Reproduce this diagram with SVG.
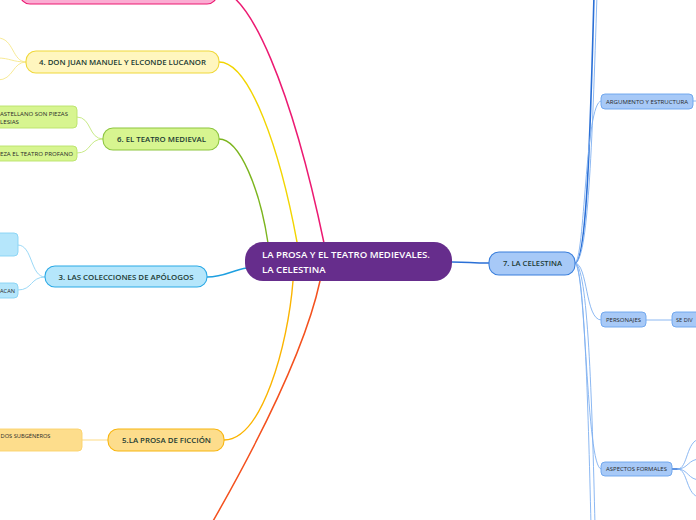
<svg xmlns="http://www.w3.org/2000/svg" width="696" height="520" viewBox="0 0 696 520">
<style>
.t{font-family:"Open Sans","Liberation Sans",sans-serif;font-weight:600;font-size:7.6px;fill:#1c3b33;text-anchor:middle}
.s{font-family:"Open Sans","Liberation Sans",sans-serif;font-size:5.6px;fill:#2a2a2a}
.c{fill:none;stroke-linecap:round}
</style>
<rect width="696" height="520" fill="#ffffff"/>
<g id="connectors">
  <path class="c" d="M217,-10 C250,-10 292,90 324,243" stroke="#ec1a72" stroke-width="1.5"/>
  <path class="c" d="M219,62 C250,62 280,150 297,242" stroke="#f2d500" stroke-width="1.4"/>
  <path class="c" d="M219,139 C240,139 260,190 268,243" stroke="#7cb51e" stroke-width="1.4"/>
  <path class="c" d="M207,277 C225,277 232,270 247,268" stroke="#1e9fe0" stroke-width="1.5"/>
  <path class="c" d="M224,440 C262,440 288,345 293,281" stroke="#fbb400" stroke-width="1.4"/>
  <path class="c" d="M320,281 C305,350 260,440 205,535" stroke="#f4511e" stroke-width="1.5"/>
  <path class="c" d="M452,262 C470,262 470,263 489,263" stroke="#2a6fd6" stroke-width="1.5"/>
  <path class="c" d="M575,263 C586,263 590,150 594,-5" stroke="#2a6fd6" stroke-width="1.6"/>
  <path class="c" d="M575,263 C588,263 592,150 597,-5" stroke="#7fb0f0" stroke-width="0.9"/>
  <path class="c" d="M575,263 C585,263 585,101 601,101" stroke="#7fb0f0" stroke-width="0.9"/>
  <path class="c" d="M575,263 C588,263 585,320 601,320" stroke="#7fb0f0" stroke-width="0.9"/>
  <path class="c" d="M575,263 C586,263 586,469 601,469" stroke="#7fb0f0" stroke-width="0.9"/>
  <path class="c" d="M575,263 C584,263 588,400 591,525" stroke="#7fb0f0" stroke-width="0.9"/>
  <path class="c" d="M575,263 C588,263 592,400 595,525" stroke="#7fb0f0" stroke-width="0.9"/>
  <path class="c" d="M693,101 L700,101" stroke="#7fb0f0" stroke-width="0.9"/>
  <path class="c" d="M646,320 L672,320" stroke="#7fb0f0" stroke-width="0.9"/>
  <path class="c" d="M672,469 L679,469" stroke="#2a6fd6" stroke-width="1.4"/>
  <path class="c" d="M678,469 C688,469 686,440 700,439" stroke="#7fb0f0" stroke-width="0.9"/>
  <path class="c" d="M678,469 C688,469 688,459 700,459" stroke="#7fb0f0" stroke-width="0.9"/>
  <path class="c" d="M678,469 C688,469 688,480 700,480" stroke="#7fb0f0" stroke-width="0.9"/>
  <path class="c" d="M678,469 C688,469 686,497 700,497" stroke="#7fb0f0" stroke-width="0.9"/>
  <path class="c" d="M26,62 C12,62 14,38 -2,38" stroke="#f6e88a" stroke-width="0.9"/>
  <path class="c" d="M26,62 C12,62 10,58 -2,58" stroke="#f6e88a" stroke-width="0.9"/>
  <path class="c" d="M26,62 C12,62 14,80 -2,80" stroke="#f6e88a" stroke-width="0.9"/>
  <path class="c" d="M103,139 C88,139 92,117 77,117" stroke="#c2e87a" stroke-width="0.9"/>
  <path class="c" d="M103,139 C88,139 92,153 77,153" stroke="#c2e87a" stroke-width="0.9"/>
  <path class="c" d="M45,277 C30,277 33,245 18,245" stroke="#8fd4f5" stroke-width="0.9"/>
  <path class="c" d="M45,277 C30,277 33,290 18,290" stroke="#8fd4f5" stroke-width="0.9"/>
  <path class="c" d="M108,440 L82,440" stroke="#fdd776" stroke-width="0.9"/>
</g>
<g id="central">
  <rect x="245" y="242" width="207" height="39" rx="18" fill="#662d8c"/>
  <text x="262" y="258" font-family="Open Sans, Liberation Sans, sans-serif" font-size="9.6" font-weight="600" fill="#ffffff">LA PROSA Y EL TEATRO MEDIEVALES.</text>
  <text x="262" y="273" font-family="Open Sans, Liberation Sans, sans-serif" font-size="9.6" font-weight="600" fill="#ffffff">LA CELESTINA</text>
</g>
<g id="n1">
  <rect x="20" y="-20" width="197" height="24" rx="10" fill="#fbadd3" stroke="#ec1a72" stroke-width="1.2"/>
</g>
<g id="n4">
  <rect x="26" y="51" width="193" height="22" rx="10" fill="#fff6bf" stroke="#f0d83a" stroke-width="1.1"/>
  <text class="t" x="122.5" y="64.8" textLength="167" lengthAdjust="spacingAndGlyphs">4. DON JUAN MANUEL Y ELCONDE LUCANOR</text>
</g>
<g id="n6">
  <rect x="103" y="128" width="116" height="22" rx="10" fill="#d7f590" stroke="#8dc63f" stroke-width="1.1"/>
  <text class="t" x="161.5" y="141.8" textLength="89" lengthAdjust="spacingAndGlyphs">6. EL TEATRO MEDIEVAL</text>
</g>
<g id="n6a">
  <rect x="-10" y="106" width="87" height="22" rx="4" fill="#d7f590" stroke="#b9e36a" stroke-width="0.9"/>
  <text class="s" x="0" y="115.5" textLength="68" lengthAdjust="spacingAndGlyphs">ASTELLANO SON PIEZAS</text>
  <text class="s" x="0" y="124" textLength="19" lengthAdjust="spacingAndGlyphs">LESIAS</text>
</g>
<g id="n6b">
  <rect x="-10" y="146" width="87" height="15" rx="4" fill="#d7f590" stroke="#b9e36a" stroke-width="0.9"/>
  <text class="s" x="0" y="155.6" textLength="73" lengthAdjust="spacingAndGlyphs">EZA EL TEATRO PROFANO</text>
</g>
<g id="n3">
  <rect x="45" y="266" width="162" height="21" rx="10" fill="#b5e6fb" stroke="#2aa9e6" stroke-width="1.1"/>
  <text class="t" x="126" y="279.5" textLength="135" lengthAdjust="spacingAndGlyphs">3. LAS COLECCIONES DE APÓLOGOS</text>
</g>
<g id="n3a">
  <rect x="-10" y="233" width="28" height="23" rx="4" fill="#b5e6fb" stroke="#86d2f4" stroke-width="0.9"/>
</g>
<g id="n3b">
  <rect x="-10" y="283" width="28" height="15" rx="4" fill="#b5e6fb" stroke="#86d2f4" stroke-width="0.9"/>
  <text class="s" x="0" y="292.6" textLength="15" lengthAdjust="spacingAndGlyphs">ACAN</text>
</g>
<g id="n5">
  <rect x="108" y="429" width="116" height="22" rx="10" fill="#fddd8c" stroke="#f8b50f" stroke-width="1.1"/>
  <text class="t" x="166.5" y="442.8" textLength="89" lengthAdjust="spacingAndGlyphs">5.LA PROSA DE FICCIÓN</text>
</g>
<g id="n5a">
  <rect x="-10" y="429" width="92" height="22" rx="4" fill="#fddd8c" stroke="#fcd36a" stroke-width="0.9"/>
  <text class="s" x="0.5" y="438" textLength="50" lengthAdjust="spacingAndGlyphs">DOS SUBGÉNEROS</text>
</g>
<g id="n7">
  <rect x="489" y="252" width="86" height="23" rx="10" fill="#a7c9f7" stroke="#3a7fdc" stroke-width="1.1"/>
  <text class="t" x="532.5" y="266" textLength="59" lengthAdjust="spacingAndGlyphs">7. LA CELESTINA</text>
</g>
<g id="n7a">
  <rect x="601" y="94" width="92" height="15" rx="4" fill="#a7c9f7" stroke="#6aa3ec" stroke-width="0.9"/>
  <text class="s" x="606" y="103.5" textLength="82" lengthAdjust="spacingAndGlyphs">ARGUMENTO Y ESTRUCTURA</text>
</g>
<g id="n7b">
  <rect x="601" y="312" width="45" height="15" rx="4" fill="#a7c9f7" stroke="#6aa3ec" stroke-width="0.9"/>
  <text class="s" x="606" y="321.7" textLength="35" lengthAdjust="spacingAndGlyphs">PERSONAJES</text>
</g>
<g id="n7b1">
  <rect x="672" y="312" width="40" height="15" rx="4" fill="#a7c9f7" stroke="#6aa3ec" stroke-width="0.9"/>
  <text class="s" x="676" y="321.7">SE DIV</text>
</g>
<g id="n7c">
  <rect x="601" y="462" width="71" height="14" rx="4" fill="#a7c9f7" stroke="#6aa3ec" stroke-width="0.9"/>
  <text class="s" x="606" y="471" textLength="61" lengthAdjust="spacingAndGlyphs">ASPECTOS FORMALES</text>
</g>
</svg>
